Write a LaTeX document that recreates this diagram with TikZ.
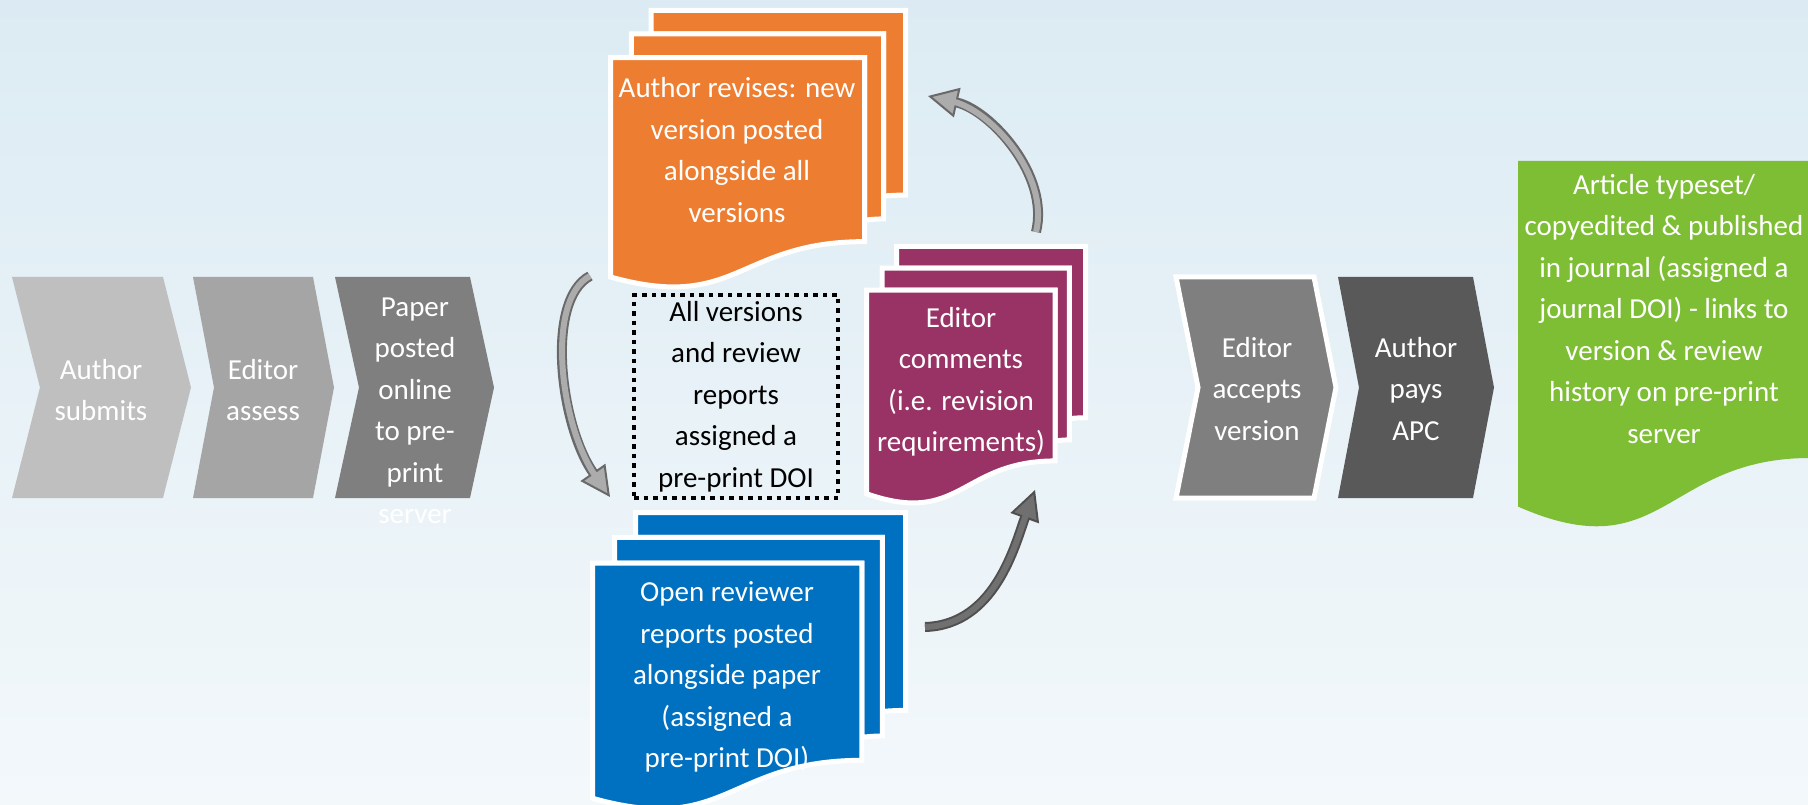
\documentclass[tikz,border=0pt]{standalone}
\usepackage{fontspec}
\setmainfont{Carlito}
\usetikzlibrary{arrows.meta}
\definecolor{bgtop}{RGB}{220,235,243}
\definecolor{bgbot}{RGB}{243,248,251}
\definecolor{grayA}{RGB}{191,191,191}
\definecolor{grayB}{RGB}{165,165,165}
\definecolor{grayC}{RGB}{127,127,127}
\definecolor{grayD}{RGB}{89,89,89}
\definecolor{revorange}{RGB}{237,125,49}
\definecolor{edpurple}{RGB}{153,51,102}
\definecolor{repblue}{RGB}{0,112,192}
\definecolor{pubgreen}{RGB}{126,190,52}
\definecolor{arrowfill}{RGB}{172,172,172}
\definecolor{arrowedge}{RGB}{105,105,105}
\definecolor{darkfill}{RGB}{112,112,112}
\definecolor{darkedge}{RGB}{80,80,80}
\tikzset{
  txt/.style={font=\fontsize{29}{41.5}\selectfont, align=center, inner sep=0pt, text=white},
  page/.style={draw=white, line width=5pt, line join=miter},
  dotbox/.style={draw=black, line width=4.5pt, dash pattern=on 4.5pt off 5pt, inner sep=0pt, minimum width=204pt, minimum height=203pt},
  loop arrow/.style 2 args={line width=10pt, draw=#2,
    -{Triangle[length=30pt,width=30pt,fill=#1,color=#2,line width=2pt]},
    postaction={draw=#1, line width=6pt, -, shorten >=26pt}}
}
\newcommand{\chev}[5][]{%
  \path[fill=#5,#1] (#2,277) -- (#3,277) -- ({#3+#4},387.5) -- (#3,498) -- (#2,498) -- ({#2+#4},387.5) -- cycle;}
\newcommand{\docstack}[5]{%
  \begin{scope}[shift={(#1,#2)}, x=#3pt, y=-#4pt]
    \path[page, fill=#5] (0.1376,0.084) -- (0.1376,0) -- (1,0) -- (1,0.6663) .. controls (0.963,0.6663) and (0.926,0.6698) .. (0.926,0.6698) -- (0.926,0.084) -- cycle;
    \path[page, fill=#5] (0.0709,0.1701) -- (0.0709,0.084) -- (0.926,0.084) -- (0.926,0.7524) .. controls (0.8934,0.7524) and (0.861,0.757) .. (0.861,0.757) -- (0.861,0.1701) -- cycle;
    \path[page, fill=#5] (0,0.9621) .. controls (0.4305,1.0899) and (0.4305,0.8344) .. (0.861,0.8344) -- (0.861,0.1701) -- (0,0.1701) -- cycle;
  \end{scope}}

\begin{document}
\begin{tikzpicture}[x=1pt,y=-1pt]
\useasboundingbox (0,0) rectangle (1808,805);
\clip (0,0) rectangle (1808,805);
\shade[top color=bgtop, bottom color=bgbot] (0,0) rectangle (1808,805);

\chev{12}{163}{28}{grayA}
\chev{193}{313}{21}{grayB}
\chev{335}{470}{24}{grayC}
\chev[draw=white, line width=5pt]{1176}{1314}{22}{grayC}
\chev{1338}{1473}{21}{grayD}
\node[txt] (submit) at (101,390) {Author\\submits};
\node[txt] (assess) at (263,390) {Editor\\assess};
\node[txt] (posted) at (415,411) {Paper\\posted\\online\\to pre-\\print\\server};
\node[txt] (accept) at (1257,389) {Editor\\accepts\\version};
\node[txt] (pay) at (1416,389) {Author\\pays\\APC};

\docstack{610.5}{10.5}{295}{277}{revorange}
\docstack{866.5}{246.5}{219}{257}{edpurple}
\docstack{592.5}{512.5}{313}{297}{repblue}
\node[txt] (revise) at (737,150) {Author revises: new\\version posted\\alongside all\\versions};
\node[txt] (comments) at (961,382) {Editor\\comments\\(i.e. revision\\requirements)};
\node[txt] (reports) at (727,677) {Open reviewer\\reports posted\\alongside paper\\(assigned a\\pre-print DOI)};
\node[txt, text=black, dotbox] (alldoi) at (736,396.5) {All versions\\and review\\reports\\assigned a\\pre-print DOI};

\fill[pubgreen] (1518,161) -- (1810,161) -- (1810,458) .. controls (1664,458) and (1664,570.6) .. (1518,506.6) -- cycle;
\node[txt] (publish) at (1664,309) {Article typeset/\\copyedited \& published\\in journal (assigned a\\journal DOI) - links to\\version \& review\\history on pre-print\\server};

\coordinate (l1) at (590,276);
\coordinate (l2) at (610,497);
\coordinate (t1) at (1036,232);
\coordinate (t2) at (928,96);
\coordinate (b1) at (925,627);
\coordinate (b2) at (1035,490);
\draw[loop arrow={arrowfill}{arrowedge}] (l1) .. controls (545,300) and (560,425) .. (l2);
\draw[loop arrow={arrowfill}{arrowedge}] (t1) .. controls (1050,175) and (990,110) .. (t2);
\draw[loop arrow={darkfill}{darkedge}] (b1) .. controls (995,625) and (1015,545) .. (b2);
\end{tikzpicture}
\end{document}
